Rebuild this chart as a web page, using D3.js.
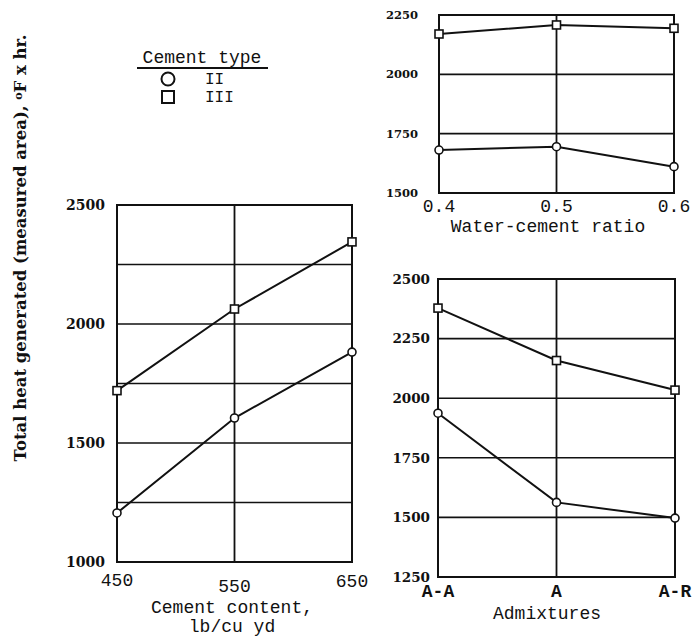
<!DOCTYPE html>
<html>
<head>
<meta charset="utf-8">
<script src="https://cdn.jsdelivr.net/npm/d3@7"></script>
<style>
  html, body { margin: 0; padding: 0; background: #fff; }
  svg { display: block; }
</style>
</head>
<body>
<script>
// Total heat generated for cement types II and III under three test variables
const cementTypes = ["II", "III"];

// Panel 1: cement content (lb/cu yd)
const cementContent = [450, 550, 650];
const heatByContentII = [1206, 1605, 1882];
const heatByContentIII = [1720, 2063, 2345];
const contentYTicks = [1000, 1500, 2000, 2500];
const contentYGrid = [1250, 1500, 1750, 2000, 2250];

// Panel 2: water-cement ratio
const wcRatio = [0.4, 0.5, 0.6];
const heatByRatioII = [1681, 1695, 1611];
const heatByRatioIII = [2170, 2208, 2194];
const ratioYTicks = [1500, 1750, 2000, 2250];

// Panel 3: admixtures
const admixtures = ["A-A", "A", "A-R"];
const heatByAdmixII = [1937, 1563, 1497];
const heatByAdmixIII = [2378, 2158, 2034];
const admixYTicks = [1250, 1500, 1750, 2000, 2250, 2500];

const W = 694, H = 640;
const svg = d3.select("body").append("svg").attr("width", W).attr("height", H);

const mono = "'Liberation Mono', 'DejaVu Sans Mono', monospace";
const serifBold = "'DejaVu Serif', 'Liberation Serif', serif";

function drawPanel(cfg) {
  const g = svg.append("g");
  const x = cfg.x, y = cfg.y;
  const [x0, x1] = x.range();
  const [yb, yt] = y.range();

  // horizontal grid lines
  g.selectAll("line.hg").data(cfg.yGrid).join("line")
    .attr("x1", x0).attr("x2", x1)
    .attr("y1", d => y(d)).attr("y2", d => y(d))
    .attr("stroke", "#111").attr("stroke-width", 1.6);

  // vertical grid lines at inner x positions
  g.selectAll("line.vg").data(cfg.xGrid).join("line")
    .attr("x1", d => cfg.xPos(d)).attr("x2", d => cfg.xPos(d))
    .attr("y1", yb).attr("y2", yt)
    .attr("stroke", "#111").attr("stroke-width", 1.8);

  // frame
  g.append("rect")
    .attr("x", x0).attr("y", yt).attr("width", x1 - x0).attr("height", yb - yt)
    .attr("fill", "none").attr("stroke", "#111").attr("stroke-width", 2);

  // y tick labels
  g.selectAll("text.yt").data(cfg.yTicks).join("text")
    .attr("x", x0 - cfg.yLabelGap).attr("y", d => y(d))
    .attr("dy", "0.36em").attr("text-anchor", "end")
    .attr("font-family", serifBold).attr("font-weight", "bold")
    .attr("font-size", cfg.yFont).attr("fill", "#111")
    .text(d => d);

  // x tick labels
  g.selectAll("text.xt").data(cfg.xTicks).join("text")
    .attr("x", d => cfg.xPos(d)).attr("y", (d, i) => yb + cfg.xLabelDy[i])
    .attr("text-anchor", "middle")
    .attr("font-family", mono).attr("font-weight", cfg.xBold ? "bold" : "normal")
    .attr("font-size", cfg.xFont).attr("fill", "#111")
    .text(cfg.xFormat);

  // axis titles
  cfg.titles.forEach(t => {
    g.append("text").attr("x", t.x).attr("y", t.y)
      .attr("text-anchor", "middle")
      .attr("font-family", mono).attr("font-size", t.size).attr("fill", "#111")
      .text(t.text);
  });

  // series
  const line = d3.line().x(d => cfg.xPos(d[0])).y(d => y(d[1]));
  cfg.series.forEach(s => {
    const pts = cfg.xTicks.map((xv, i) => [xv, s.values[i]]);
    g.append("path").attr("d", line(pts))
      .attr("fill", "none").attr("stroke", "#111").attr("stroke-width", 2);
    drawMarkers(g, pts.map(p => [cfg.xPos(p[0]), y(p[1])]), s.shape, cfg.markerSize);
  });
}

function drawMarkers(g, pts, shape, size) {
  if (shape === "circle") {
    g.selectAll(null).data(pts).join("circle")
      .attr("cx", d => d[0]).attr("cy", d => d[1]).attr("r", size / 2)
      .attr("fill", "#fff").attr("stroke", "#111").attr("stroke-width", 1.6);
  } else {
    g.selectAll(null).data(pts).join("rect")
      .attr("x", d => d[0] - size / 2).attr("y", d => d[1] - size / 2)
      .attr("width", size).attr("height", size)
      .attr("fill", "#fff").attr("stroke", "#111").attr("stroke-width", 1.6);
  }
}

// Panel 1: cement content
{
  const x = d3.scaleLinear().domain([450, 650]).range([117, 352]);
  const y = d3.scaleLinear().domain([1000, 2500]).range([562, 205]);
  drawPanel({
    x, y, xPos: d => x(d),
    xGrid: [550], yGrid: contentYGrid, yTicks: contentYTicks,
    xTicks: cementContent, xFormat: d => d, xFont: 18, xLabelDy: [24, 30, 25],
    yFont: 14, yLabelGap: 12, markerSize: 8,
    titles: [
      { text: "Cement content,", x: 232, y: 613, size: 18 },
      { text: "lb/cu yd", x: 232, y: 632, size: 18 }
    ],
    series: [
      { values: heatByContentIII, shape: "square" },
      { values: heatByContentII, shape: "circle" }
    ]
  });
}

// Panel 2: water-cement ratio
{
  const x = d3.scaleLinear().domain([0.4, 0.6]).range([439, 674]);
  const y = d3.scaleLinear().domain([1500, 2250]).range([193, 15]);
  drawPanel({
    x, y, xPos: d => x(d),
    xGrid: [0.5], yGrid: [1750, 2000], yTicks: ratioYTicks,
    xTicks: wcRatio, xFormat: d3.format(".1f"), xFont: 18, xLabelDy: [19, 19, 19],
    yFont: 11.5, yLabelGap: 21, markerSize: 8,
    titles: [
      { text: "Water-cement ratio", x: 548, y: 232, size: 18 }
    ],
    series: [
      { values: heatByRatioIII, shape: "square" },
      { values: heatByRatioII, shape: "circle" }
    ]
  });
}

// Panel 3: admixtures
{
  const x = d3.scalePoint().domain(admixtures).range([438, 675]);
  const y = d3.scaleLinear().domain([1250, 2500]).range([577, 279]);
  drawPanel({
    x, y, xPos: d => x(d),
    xGrid: ["A"], yGrid: [1500, 1750, 2000, 2250], yTicks: admixYTicks,
    xTicks: admixtures, xFormat: d => d, xFont: 18, xLabelDy: [20, 20, 20], xBold: true,
    yFont: 13.5, yLabelGap: 8, markerSize: 8,
    titles: [
      { text: "Admixtures", x: 547, y: 619, size: 18 }
    ],
    series: [
      { values: heatByAdmixIII, shape: "square" },
      { values: heatByAdmixII, shape: "circle" }
    ]
  });
}

// Shared y-axis title
svg.append("text")
  .attr("transform", "translate(26,248) rotate(-90)")
  .attr("text-anchor", "middle")
  .attr("font-family", serifBold).attr("font-weight", "bold")
  .attr("font-size", 16.5).attr("fill", "#111")
  .call(t => {
    t.append("tspan").text("Total heat generated (measured area), ");
    t.append("tspan").attr("baseline-shift", "40%").attr("font-size", 11).text("o");
    t.append("tspan").attr("font-size", 16.5).text("F x hr.");
  });

// Legend
{
  const lg = svg.append("g");
  lg.append("text").attr("x", 202).attr("y", 63).attr("text-anchor", "middle")
    .attr("font-family", mono).attr("font-size", 18).attr("fill", "#111")
    .text("Cement type");
  lg.append("line").attr("x1", 137).attr("x2", 268).attr("y1", 68).attr("y2", 68)
    .attr("stroke", "#111").attr("stroke-width", 2.2);
  const shapes = ["circle", "square"];
  cementTypes.forEach((ct, i) => {
    const cy = 79 + i * 18;
    if (shapes[i] === "circle") {
      lg.append("circle").attr("cx", 168).attr("cy", cy).attr("r", 6.5)
        .attr("fill", "#fff").attr("stroke", "#111").attr("stroke-width", 2);
    } else {
      lg.append("rect").attr("x", 162).attr("y", cy - 6).attr("width", 12).attr("height", 12)
        .attr("fill", "#fff").attr("stroke", "#111").attr("stroke-width", 2);
    }
    lg.append("text").attr("x", 205).attr("y", cy + 5)
      .attr("font-family", mono).attr("font-size", 16).attr("fill", "#111")
      .text(ct);
  });
}
</script>
</body>
</html>
